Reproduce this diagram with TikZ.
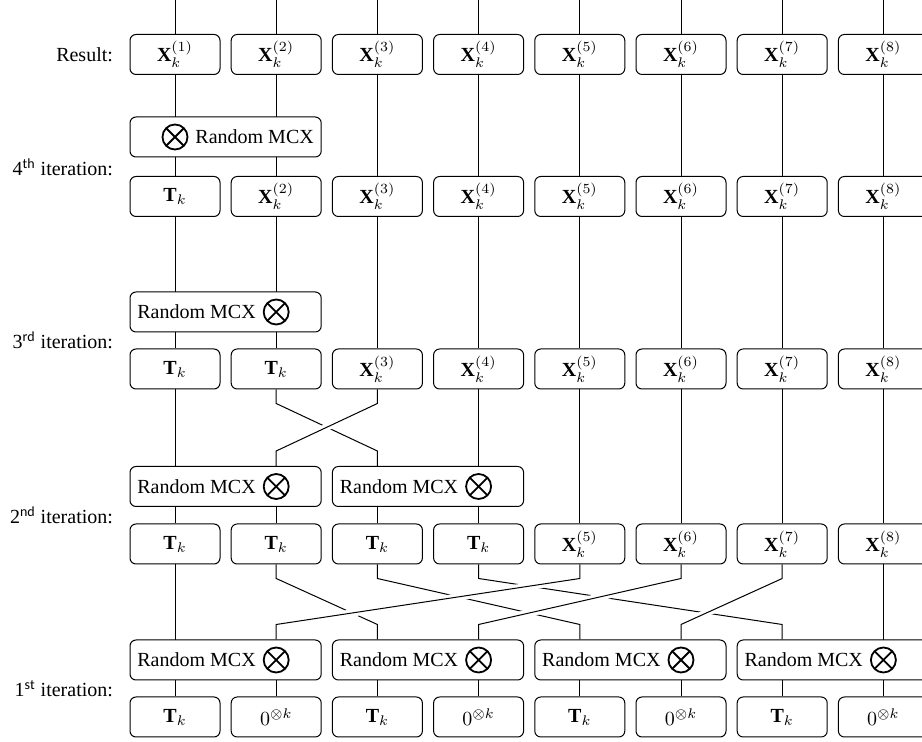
\documentclass[tikz,border=0pt]{standalone}
\usepackage{fontspec}
\setmainfont{Liberation Serif}
\newfontfamily\supfont{Carlito}
\usetikzlibrary{calc}
\pgfdeclarelayer{wires}
\pgfsetlayers{wires,main}
\newcommand{\colx}[1]{(175+101.2*(#1-1))}
\newcommand{\Xk}[1]{$\mathbf{X}_k^{(#1)}$}
\newcommand{\Tk}{$\mathbf{T}_k$}
\newcommand{\Zk}{$0^{\otimes k}$}
\newcommand{\ord}[2]{#1\textsuperscript{\supfont #2}}
\tikzset{cell/.style={draw,fill=white,rounded corners=3pt,line width=.5pt,minimum width=45pt,minimum height=20pt,inner sep=0pt},
 mcx/.style={cell,minimum width=95.6pt},
 otimes/.style={circle,draw,line width=.9pt,minimum size=12.5pt,inner sep=0pt,
  path picture={\draw[line width=.9pt] (path picture bounding box.north west)--(path picture bounding box.south east)
   (path picture bounding box.south west)--(path picture bounding box.north east);}},
 wire/.style={line width=.5pt},over/.style={wire,preaction={draw=white,line width=3.6pt}},
 shuffle/.style={to path={-- ++(0,14) -- ($(\tikztotarget)+(0,-15)$) -- (\tikztotarget)}}}

\begin{document}
\begin{tikzpicture}[x=.5pt,y=-.5pt]
\useasboundingbox (0,0) rectangle (922,742);
% Ligne du resultat.
\foreach \i in {1,...,8}
 \node[cell] (r\i) at ({\colx{\i}},54.5) {\Xk{\i}};
% 4e iteration : une seule porte, cible a gauche.
\node[mcx] (m4) at ({\colx{1}+50.6},137) {};
\node[otimes] (o4) at ({\colx{1}},137) {};
\node[anchor=west] (n4) at (o4.east) {Random MCX};
\node[cell] (t41) at ({\colx{1}},196.5) {\Tk};
\foreach \i in {2,...,8}
 \node[cell] (t4\i) at ({\colx{\i}},196.5) {\Xk{\i}};
% 3e iteration.
\node[mcx] (m3) at ({\colx{1}+50.6},312) {};
\node[otimes] (o3) at ({\colx{2}},312) {};
\node[anchor=east] (n3) at (o3.west) {Random MCX};
\foreach \i in {1,2}
 \node[cell] (t3\i) at ({\colx{\i}},369) {\Tk};
\foreach \i in {3,...,8}
 \node[cell] (t3\i) at ({\colx{\i}},369) {\Xk{\i}};
% 2e iteration : deux portes.
\foreach \k/\j/\e in {1/1/2,2/3/4}{
 \node[mcx] (m2\k) at ({\colx{\j}+50.6},486.5) {};
 \node[otimes] (o2\k) at ({\colx{\e}},486.5) {};
 \node[anchor=east] (n2\k) at (o2\k.west) {Random MCX};
}
\foreach \i in {1,...,4}
 \node[cell] (t2\i) at ({\colx{\i}},544) {\Tk};
\foreach \i in {5,...,8}
 \node[cell] (t2\i) at ({\colx{\i}},544) {\Xk{\i}};
% 1re iteration : quatre portes sur les paires (T_k, 0).
\foreach \k/\j/\e in {1/1/2,2/3/4,3/5/6,4/7/8}{
 \node[mcx] (m1\k) at ({\colx{\j}+50.6},660) {};
 \node[otimes] (o1\k) at ({\colx{\e}},660) {};
 \node[anchor=east] (n1\k) at (o1\k.west) {Random MCX};
 \node[cell] (t1\j) at ({\colx{\j}},717) {\Tk};
 \node[cell] (t1\e) at ({\colx{\e}},717) {\Zk};
}
% Etiquettes a gauche.
\node[anchor=east] (lr) at (120,54.5) {Result:};
\node[anchor=east] (l4) at (120,167) {\ord{4}{th} iteration:};
\node[anchor=east] (l3) at (120,340.5) {\ord{3}{rd} iteration:};
\node[anchor=east] (l2) at (120,515) {\ord{2}{nd} iteration:};
\node[anchor=east] (l1) at (120,688.5) {\ord{1}{st} iteration:};
% Fils, sous les boites.
\begin{pgfonlayer}{wires}
\foreach \i in {1,...,8}{
 \draw[wire] (r\i.north) -- ++(0,-36);
 \draw[wire] (r\i) -- (t4\i);
 \draw[wire] (t4\i) -- (t3\i);
}
\foreach \i in {1,4,5,6,7,8}
 \draw[wire] (t3\i) -- (t2\i);
\draw[wire] (t21) -- (t11) (t28) -- (t18);
\foreach \i in {2,3}
 \draw[wire] (t2\i) -- (t2\i |- m21);
\foreach \i in {2,...,7}
 \draw[wire] (t1\i) -- (t1\i |- m11);
% Melange : les fils vers la droite passent dessous.
\draw[wire,shuffle] (t32.south) to (m22.north -| t23);
\draw[wire,shuffle] (t22.south) to (m12.north -| t13);
\draw[wire,shuffle] (t23.south) to (m13.north -| t15);
\draw[wire,shuffle] (t24.south) to (m14.north -| t17);
\draw[over,shuffle] (t33.south) to (m21.north -| t22);
\draw[over,shuffle] (t25.south) to (m11.north -| t12);
\draw[over,shuffle] (t26.south) to (m12.north -| t14);
\draw[over,shuffle] (t27.south) to (m13.north -| t16);
\end{pgfonlayer}
\end{tikzpicture}
\end{document}
